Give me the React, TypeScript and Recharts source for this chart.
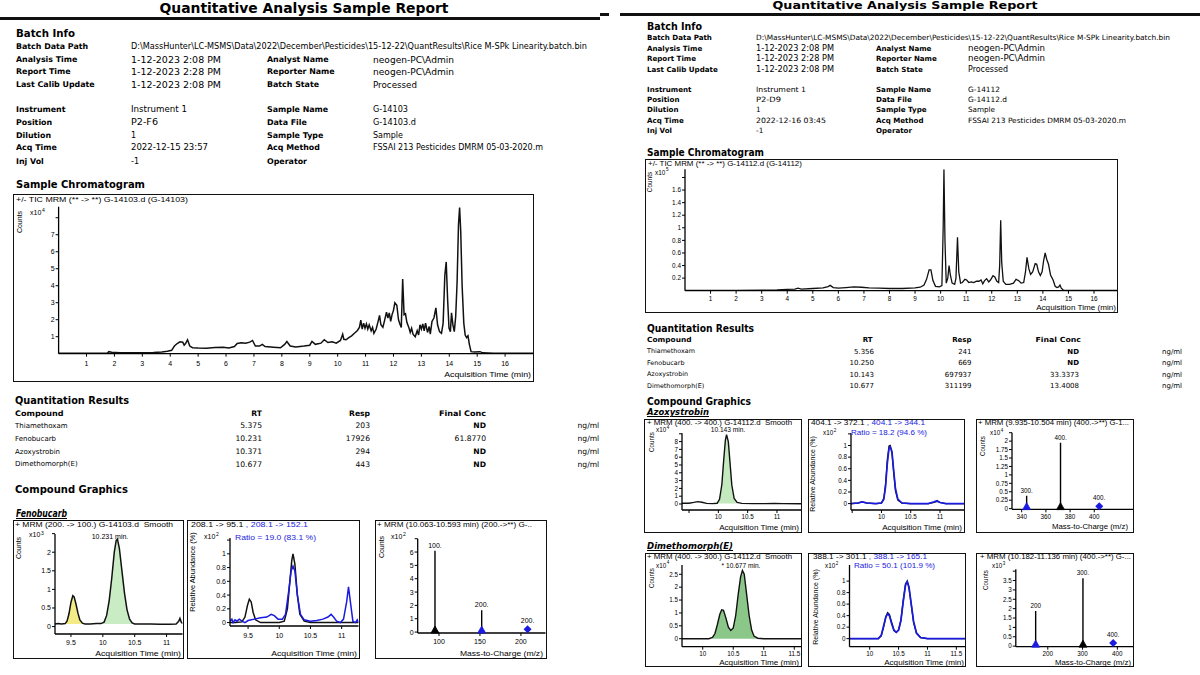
import React from 'react';
import { ComposedChart, Line, Area, XAxis, YAxis, ReferenceDot } from 'recharts';

const RPT = "'DejaVu Sans', Verdana, sans-serif";
const CHT = "'Liberation Sans', Arial, sans-serif";
const BLUE = '#1a1ae0';

// ---------------- DATA ----------------
// TIC G-14103 (x10^4 counts vs min)
const ticG14103: [number, number][] = [
  [0, 0.03], [0.5, 0.03], [1.0, 0.03], [1.5, 0.03], [1.75, 0.04], [1.8, 0.12], [1.9, 0.08], [2.2, 0.06], [2.6, 0.05], [3.0, 0.05],
  [3.4, 0.07], [3.7, 0.1], [3.9, 0.14], [4.05, 0.2], [4.15, 0.45], [4.25, 0.6], [4.35, 0.7], [4.45, 0.68], [4.5, 0.5], [4.55, 0.6],
  [4.62, 0.82], [4.7, 0.45], [4.8, 0.35], [5.0, 0.33], [5.3, 0.32], [5.6, 0.36], [5.9, 0.38], [6.1, 0.34], [6.3, 0.42], [6.4, 0.6],
  [6.55, 0.65], [6.7, 0.62], [6.85, 0.68], [6.95, 0.78], [7.05, 0.45], [7.2, 0.45], [7.3, 0.55], [7.4, 0.42], [7.7, 0.38], [7.95, 0.35],
  [8.1, 0.55], [8.18, 0.72], [8.3, 0.45], [8.5, 0.4], [8.8, 0.45], [9.0, 0.5], [9.08, 0.72], [9.2, 0.55], [9.4, 0.62], [9.52, 0.82],
  [9.65, 0.66], [9.8, 0.7], [9.95, 0.62], [10.1, 0.78], [10.18, 1.15], [10.22, 0.85], [10.3, 0.82], [10.4, 0.95], [10.5, 1.05], [10.6, 1.2],
  [10.7, 1.35], [10.78, 1.55], [10.83, 1.98], [10.88, 1.45], [10.93, 1.8], [10.98, 1.5], [11.03, 1.75], [11.08, 1.45], [11.13, 1.7], [11.2, 1.35],
  [11.25, 1.55], [11.3, 1.2], [11.38, 1.45], [11.45, 1.9], [11.5, 2.25], [11.55, 1.7], [11.62, 1.55], [11.68, 1.95], [11.75, 2.45], [11.8, 2.1],
  [11.85, 2.4], [11.9, 1.9], [11.95, 2.3], [12.0, 2.55], [12.05, 3.0], [12.12, 2.85], [12.18, 2.0], [12.23, 1.75], [12.28, 1.55], [12.33, 4.4],
  [12.38, 2.3], [12.43, 2.35], [12.48, 1.85], [12.55, 1.55], [12.6, 1.25], [12.65, 1.5], [12.7, 1.15], [12.78, 1.0], [12.85, 1.35], [12.9, 1.1],
  [12.95, 1.7], [13.0, 1.45], [13.05, 1.75], [13.1, 1.35], [13.15, 1.8], [13.22, 1.25], [13.28, 1.6], [13.32, 1.15], [13.38, 1.9], [13.45, 2.1],
  [13.52, 2.7], [13.58, 1.7], [13.65, 1.3], [13.72, 1.2], [13.78, 1.8], [13.84, 4.6], [13.89, 5.4], [13.94, 3.2], [13.99, 1.5], [14.04, 1.3],
  [14.08, 2.4], [14.13, 1.7], [14.18, 1.3], [14.23, 2.2], [14.28, 4.2], [14.33, 7.6], [14.37, 8.6], [14.41, 7.2], [14.46, 4.0], [14.52, 1.8],
  [14.57, 1.1], [14.62, 0.95], [14.67, 1.05], [14.72, 0.55], [14.78, 0.12], [14.9, 0.1], [15.1, 0.12], [15.2, 0.05], [15.6, 0.03], [16.2, 0.02], [17, 0.02],
];

// TIC G-14112 (x10^5 counts vs min)
const ticG14112: [number, number][] = [
  [0, 0.005], [1, 0.005], [2, 0.006], [3, 0.008], [3.6, 0.012], [4.0, 0.02], [4.3, 0.025], [4.42, 0.04], [4.55, 0.025], [5.0, 0.035],
  [5.4, 0.045], [5.6, 0.065], [5.68, 0.085], [5.8, 0.05], [6.0, 0.04], [6.3, 0.05], [6.6, 0.06], [6.9, 0.055], [7.2, 0.045], [7.6, 0.04],
  [8.0, 0.035], [8.5, 0.035], [9.0, 0.045], [9.2, 0.055], [9.35, 0.09], [9.45, 0.18], [9.55, 0.33], [9.62, 0.33], [9.7, 0.16], [9.8, 0.07],
  [9.95, 0.06], [10.05, 0.08], [10.1, 1.0], [10.13, 1.93], [10.17, 0.8], [10.22, 0.12], [10.28, 0.2], [10.33, 0.4], [10.38, 0.25], [10.45, 0.12],
  [10.55, 0.1], [10.6, 0.2], [10.66, 0.85], [10.71, 0.3], [10.78, 0.12], [10.85, 0.13], [10.95, 0.18], [11.02, 0.17], [11.1, 0.13], [11.2, 0.14],
  [11.3, 0.13], [11.4, 0.15], [11.5, 0.15], [11.58, 0.17], [11.65, 0.11], [11.72, 0.16], [11.8, 0.19], [11.88, 0.14], [11.95, 0.17], [12.05, 0.24],
  [12.12, 0.22], [12.2, 0.15], [12.27, 0.13], [12.31, 0.4], [12.35, 1.12], [12.39, 0.45], [12.45, 0.15], [12.55, 0.1], [12.7, 0.1], [12.85, 0.12],
  [12.95, 0.18], [13.05, 0.16], [13.15, 0.12], [13.25, 0.13], [13.32, 0.3], [13.38, 0.53], [13.45, 0.35], [13.52, 0.26], [13.6, 0.3], [13.7, 0.43],
  [13.76, 0.42], [13.83, 0.3], [13.9, 0.24], [13.97, 0.3], [14.03, 0.48], [14.09, 0.6], [14.15, 0.5], [14.22, 0.42], [14.3, 0.25], [14.4, 0.17],
  [14.48, 0.07], [14.55, 0.05], [14.62, 0.06], [14.67, 0.09], [14.72, 0.04], [14.8, 0.01], [15.0, 0.005], [16, 0.004], [17, 0.003],
];

// Fenobucarb, G-14103: quant 200 -> 100 (x10^3)
const fenoQuant: [number, number][] = [
  [9.25, 0.07], [9.3, 0.08], [9.35, 0.07], [9.41, 0.08], [9.44, 0.15], [9.47, 0.35], [9.5, 0.65], [9.53, 0.83], [9.55, 0.8], [9.58, 0.6],
  [9.61, 0.36], [9.64, 0.18], [9.68, 0.09], [9.72, 0.07], [9.8, 0.07], [9.9, 0.08], [9.97, 0.08], [10.02, 0.12], [10.06, 0.3], [10.1, 0.7],
  [10.14, 1.3], [10.18, 2.0], [10.21, 2.32], [10.23, 2.35], [10.26, 2.1], [10.3, 1.5], [10.34, 0.9], [10.38, 0.45], [10.42, 0.2], [10.46, 0.1],
  [10.5, 0.07], [10.6, 0.07], [10.75, 0.07], [10.9, 0.06], [11.05, 0.06], [11.15, 0.07], [11.19, 0.14], [11.21, 0.22], [11.23, 0.12], [11.25, 0.08],
];
// Fenobucarb qualifiers (x10^2 relative abundance)
const fenoQual95: [number, number][] = [
  [9.21, 0.0], [9.3, 0.0], [9.4, 0.01], [9.45, 0.08], [9.49, 0.25], [9.52, 0.34], [9.55, 0.3], [9.58, 0.15], [9.62, 0.04], [9.7, 0.0],
  [9.8, 0.0], [10.0, 0.0], [10.08, 0.02], [10.13, 0.2], [10.17, 0.6], [10.2, 0.9], [10.22, 1.0], [10.25, 0.85], [10.29, 0.4], [10.33, 0.12],
  [10.4, 0.02], [10.5, 0.0], [11.0, 0.0], [11.27, 0.0],
];
const fenoQual152: [number, number][] = [
  [9.21, 0.02], [9.24, 0.05], [9.26, 0.0], [9.29, 0.04], [9.32, 0.02], [9.36, 0.05], [9.4, 0.02], [9.45, 0.0], [9.5, 0.03], [9.6, 0.05],
  [9.7, 0.07], [9.8, 0.08], [9.87, 0.12], [9.92, 0.1], [9.98, 0.05], [10.05, 0.05], [10.1, 0.12], [10.15, 0.45], [10.19, 0.75], [10.22, 0.82],
  [10.25, 0.75], [10.29, 0.4], [10.34, 0.12], [10.4, 0.04], [10.5, 0.02], [10.6, 0.03], [10.7, 0.05], [10.78, 0.08], [10.83, 0.12], [10.87, 0.08],
  [10.92, 0.02], [10.98, 0.0], [11.03, 0.05], [11.08, 0.3], [11.11, 0.52], [11.14, 0.3], [11.18, 0.02], [11.22, 0.0], [11.25, 0.04], [11.27, 0.0],
];
const fenoSticks = [
  { mz: 95.1, h: 6.1, label: '100.', mark: '#000' },
  { mz: 152.1, h: 1.64, label: '200.', mark: BLUE },
];
const fenoPrecursor = [{ mz: 208.1, h: 0.22, label: '200.' }];

// Azoxystrobin, G-14112 (x10^4)
const azoQuant: [number, number][] = [
  [9.38, 0.1], [9.5, 0.1], [9.58, 0.2], [9.65, 0.3], [9.72, 0.22], [9.8, 0.08], [9.9, 0.05], [9.98, 0.1], [10.02, 0.6], [10.06, 2.5],
  [10.09, 5.5], [10.12, 8.2], [10.14, 8.9], [10.17, 8.0], [10.2, 5.2], [10.23, 2.4], [10.27, 0.7], [10.32, 0.2], [10.4, 0.08], [10.6, 0.05],
  [10.8, 0.05], [10.95, 0.06], [11.1, 0.05], [11.41, 0.04],
];
const azoQual372: [number, number][] = [
  [9.48, 0], [9.6, 0.01], [9.67, 0.03], [9.75, 0.01], [9.9, 0], [10.0, 0.01], [10.04, 0.09], [10.07, 0.33], [10.1, 0.75], [10.13, 0.99],
  [10.15, 1.0], [10.18, 0.86], [10.21, 0.52], [10.24, 0.22], [10.28, 0.06], [10.35, 0.01], [10.5, 0], [10.8, 0], [10.9, 0.02], [10.95, 0.04],
  [11.0, 0.02], [11.1, 0], [11.41, 0],
];
const azoQual344: [number, number][] = [
  [9.48, 0], [9.6, 0.01], [9.67, 0.03], [9.75, 0.01], [9.9, 0], [10.0, 0.01], [10.04, 0.07], [10.07, 0.28], [10.1, 0.68], [10.13, 0.95],
  [10.15, 0.98], [10.18, 0.9], [10.21, 0.57], [10.24, 0.26], [10.28, 0.08], [10.35, 0.01], [10.5, 0], [10.8, 0], [10.9, 0.03], [10.95, 0.05],
  [11.0, 0.02], [11.1, 0], [11.41, 0],
];
const azoSticks = [
  { mz: 344.1, h: 0.38, label: '300.', mark: BLUE },
  { mz: 372.1, h: 1.95, label: '400.', mark: '#000' },
];
const azoPrecursor = [{ mz: 404.1, h: 0.07, label: '400.' }];

// Dimethomorph(E), G-14112 (x10^4)
const dimQuant: [number, number][] = [
  [9.66, 0], [9.9, 0], [10.1, 0], [10.16, 0.05], [10.2, 0.2], [10.24, 0.55], [10.28, 0.95], [10.31, 1.12], [10.34, 1.1], [10.38, 0.8],
  [10.42, 0.45], [10.46, 0.32], [10.5, 0.42], [10.54, 0.9], [10.58, 1.7], [10.62, 2.4], [10.65, 2.65], [10.68, 2.5], [10.72, 1.7], [10.76, 0.9],
  [10.8, 0.35], [10.84, 0.1], [10.9, 0.02], [11.0, 0], [11.3, 0], [11.61, 0],
];
const dimQual301: [number, number][] = [
  [9.65, 0], [10.15, 0], [10.2, 0.05], [10.24, 0.2], [10.28, 0.38], [10.31, 0.45], [10.34, 0.42], [10.38, 0.28], [10.42, 0.15], [10.46, 0.11],
  [10.5, 0.15], [10.54, 0.32], [10.58, 0.66], [10.62, 0.95], [10.65, 1.0], [10.68, 0.88], [10.72, 0.58], [10.76, 0.28], [10.81, 0.09], [10.88, 0.02],
  [11.0, 0], [11.65, 0],
];
const dimQual165: [number, number][] = [
  [9.65, 0], [10.15, 0], [10.2, 0.06], [10.24, 0.22], [10.28, 0.38], [10.31, 0.43], [10.34, 0.4], [10.38, 0.26], [10.42, 0.14], [10.46, 0.11],
  [10.5, 0.15], [10.54, 0.31], [10.58, 0.64], [10.62, 0.93], [10.65, 0.99], [10.68, 0.9], [10.72, 0.6], [10.76, 0.3], [10.81, 0.1], [10.88, 0.02],
  [11.0, 0], [11.65, 0],
];
const dimSticks = [
  { mz: 165.1, h: 1.87, label: '200', mark: BLUE },
  { mz: 301.1, h: 3.62, label: '300.', mark: '#000' },
];
const dimPrecursor = [{ mz: 388.1, h: 0.17, label: '400.' }];

// Quantitation tables
const compounds = ['Thiamethoxam', 'Fenobucarb', 'Azoxystrobin', 'Dimethomorph(E)'];
const rtLeft = ['5.375', '10.231', '10.371', '10.677'];
const respLeft = ['203', '17926', '294', '443'];
const concLeft = ['ND', '61.8770', 'ND', 'ND'];
const rtRight = ['5.356', '10.250', '10.143', '10.677'];
const respRight = ['241', '669', '697937', '311199'];
const concRight = ['ND', 'ND', '33.3373', '13.4008'];

// Tick lists
const minuteTicks = [1, 2, 3, 4, 5, 6, 7, 8, 9, 10, 11, 12, 13, 14, 15, 16];
const ticLeftY = [1, 2, 3, 4, 5, 6, 7, 8];
const ticRightY = [0.2, 0.4, 0.6, 0.8, 1, 1.2, 1.4, 1.6, 1.8];
const rtTicksA = [9.5, 10, 10.5, 11];
const rtTicksB = [10, 10.5, 11, 11.5];
const ratioY = [0, 0.2, 0.4, 0.6, 0.8, 1, 1.2];
const fenoQuantY = [0, 0.5, 1, 1.5, 2, 2.5];
const fenoSpecY = [0, 1, 2, 3, 4, 5, 6, 7];
const fenoSpecX = [100, 150, 200];
const azoQuantY = [0, 1, 2, 3, 4, 5, 6, 7, 8, 9];
const azoSpecY = [0, 0.25, 0.5, 0.75, 1, 1.25, 1.5, 1.75, 2, 2.25];
const azoSpecX = [340, 360, 380, 400];
const dimQuantY = [0, 0.5, 1, 1.5, 2, 2.5];
const dimRatioY = [0, 0.2, 0.4, 0.6, 0.8, 1];
const dimSpecY = [0, 0.5, 1, 1.5, 2, 2.5, 3, 3.5, 4];
const dimSpecX = [200, 300, 400];

// ---------------- HELPERS ----------------
const pts = (a: [number, number][]) => a.map(([t, v]) => ({ t, v }));
const band = (a: [number, number][], lo: number, hi: number, base: number) =>
  a.filter(([t]) => t >= lo && t <= hi).map(([t, v]) => ({ t, r: [base, v] }));
const stickPts = (s: { mz: number; h: number }[]) =>
  s.flatMap((k) => [{ t: k.mz, v: 0 }, { t: k.mz, v: k.h }, { t: k.mz, v: null as any }]);

let _ctx: any = null;
function measure(text: string, font: string) {
  try {
    if (!_ctx) _ctx = document.createElement('canvas').getContext('2d');
    _ctx.font = font;
    return _ctx.measureText(text).width;
  } catch (e) {
    return 0;
  }
}

function T(p: any) {
  const { x, y, t, s, b, it, c = '#000', a = 'l', w, u, ff = RPT, t2, c2, top } = p;
  const font = `${it ? 'italic ' : ''}${b ? 'bold ' : ''}${s}px ${ff}`;
  let sx = 1;
  if (w) {
    const m = measure(t + (t2 || ''), font);
    if (m > 0) sx = w / m;
  }
  const tx = a === 'l' ? '0%' : a === 'r' ? '-100%' : '-50%';
  const origin = a === 'l' ? 'left' : a === 'r' ? 'right' : 'center';
  const lh = top !== undefined ? s * 1.17 : s * 1.2;
  return (
    <div
      style={{
        position: 'absolute', left: x, top: top !== undefined ? top : y - s * 0.6, fontFamily: ff, fontSize: s,
        fontWeight: b ? 700 : 400, fontStyle: it ? 'italic' : 'normal', lineHeight: `${lh}px`,
        whiteSpace: 'pre', color: c, textDecoration: u ? 'underline' : 'none',
        transform: `translateX(${tx}) scaleX(${sx})`, transformOrigin: `${origin} center`,
      }}
    >
      {t}
      {t2 ? <span style={{ color: c2 }}>{t2}</span> : null}
    </div>
  );
}

function R(p: any) {
  const { x, y, t, s, w, ff = CHT } = p;
  let sx = 1;
  if (w) {
    const m = measure(t, `${s}px ${ff}`);
    if (m > 0) sx = w / m;
  }
  return (
    <div
      style={{
        position: 'absolute', left: x, top: y, fontFamily: ff, fontSize: s, lineHeight: `${s * 1.2}px`,
        whiteSpace: 'pre', color: '#000', transform: `translate(-50%,-50%) rotate(-90deg) scaleX(${sx})`,
        transformOrigin: 'center center',
      }}
    >
      {t}
    </div>
  );
}

function X10(p: any) {
  const { x, y, e, s } = p;
  return (
    <>
      <T x={x} y={y} t="x10" s={s} ff={CHT} />
      <T x={x + s * 1.72} y={y - s * 0.38} t={e} s={s * 0.72} ff={CHT} />
    </>
  );
}

type Cfg = {
  box: number[]; plot: number[]; xd: [number, number]; yd: [number, number];
  xt: number[]; yt: number[]; xb?: number[]; yb?: number[]; fs: number; xm: number;
};

const blankFmt = (bl?: number[]) => (v: number) => (bl && bl.some((b) => Math.abs(b - v) < 1e-9) ? '' : String(v));

function frame(c: Cfg, kids: React.ReactNode[]) {
  const [x1, y1, x2, y2] = c.box;
  const [pl, pt, pr, pb] = c.plot;
  const W = x2 - x1;
  const H = y2 - y1;
  const tick = { fontSize: c.fs, fill: '#000', fontFamily: CHT };
  const axisLine = { stroke: '#000', strokeWidth: 1.3 };
  return (
    <>
      <div style={{ position: 'absolute', left: x1, top: y1, width: W, height: H }}>
        <ComposedChart width={W} height={H} margin={{ top: pt - y1, right: x2 - pr, left: 0, bottom: 0 }}>
          <XAxis type="number" dataKey="t" scale="linear" domain={c.xd} ticks={c.xt} interval={0} allowDataOverflow
            height={y2 - pb} tickSize={3} tickMargin={c.xm} tick={tick} tickFormatter={blankFmt(c.xb)}
            axisLine={axisLine} tickLine={{ stroke: '#000' }} />
          <YAxis type="number" scale="linear" domain={c.yd} ticks={c.yt} interval={0} allowDataOverflow
            width={pl - x1} tickSize={3} tickMargin={1} tick={tick} tickFormatter={blankFmt(c.yb)}
            axisLine={axisLine} tickLine={{ stroke: '#000' }} />
          {kids}
        </ComposedChart>
      </div>
      <div style={{ position: 'absolute', left: x1, top: y1, width: W, height: H, border: '1.8px solid #111', boxSizing: 'border-box', pointerEvents: 'none' }} />
    </>
  );
}

const ln = (k: string, d: any[], stroke: string, sw = 1.3) => (
  <Line key={k} data={d} dataKey="v" type="linear" dot={false} activeDot={false} stroke={stroke} strokeWidth={sw} isAnimationActive={false} />
);
const ar = (k: string, d: any[], fill: string) => (
  <Area key={k} data={d} dataKey="r" type="linear" stroke="none" fill={fill} fillOpacity={1} dot={false} activeDot={false} isAnimationActive={false} />
);
const triShape = (color: string) => (p: any) => (
  <polygon points={`${p.cx - 4},${p.cy + 1} ${p.cx + 4},${p.cy + 1} ${p.cx},${p.cy - 6}`} fill={color} stroke={color} strokeWidth={0.8} />
);
const diaShape = (color: string) => (p: any) => (
  <polygon points={`${p.cx},${p.cy - 4} ${p.cx + 4},${p.cy} ${p.cx},${p.cy + 4} ${p.cx - 4},${p.cy}`} fill={color} />
);
const lblShape = (text: string, fs: number, dy: number) => (p: any) => (
  <text x={p.cx} y={p.cy - dy} textAnchor="middle" fontSize={fs} fontFamily={CHT} fill="#000">{text}</text>
);

function spectrumKids(pre: string, sticks: any[], prec: any[], fs: number, dyStick: number, dyPrec: number) {
  const out: React.ReactNode[] = [ln(pre + 'st', stickPts(sticks), '#000', 1.4)];
  sticks.forEach((s, i) => {
    out.push(<ReferenceDot key={pre + 'm' + i} x={s.mz} y={0} r={4} ifOverflow="visible" shape={triShape(s.mark)} />);
    out.push(<ReferenceDot key={pre + 'l' + i} x={s.mz} y={s.h} r={1} ifOverflow="visible" shape={lblShape(s.label, fs, dyStick)} />);
  });
  prec.forEach((s, i) => {
    out.push(<ReferenceDot key={pre + 'd' + i} x={s.mz} y={s.h} r={4} ifOverflow="visible" shape={diaShape(BLUE)} />);
    out.push(<ReferenceDot key={pre + 'dl' + i} x={s.mz} y={s.h} r={1} ifOverflow="visible" shape={lblShape(s.label, fs, dyPrec)} />);
  });
  return out;
}

// ---------------- FRAMES ----------------
const cTicL: Cfg = { box: [13, 194, 534, 382], plot: [58.6, 206.7, 533, 353.7], xd: [0, 17], yd: [0, 8.65], xt: minuteTicks, yt: ticLeftY, yb: [8], fs: 7, xm: 4.5 };
const cL1: Cfg = { box: [13, 520, 184, 659], plot: [55, 534, 182.5, 634], xd: [9.25, 11.25], yd: [-0.2, 2.49], xt: rtTicksA, yt: fenoQuantY, yb: [2.5], fs: 7, xm: 3 };
const cL2: Cfg = { box: [187, 520, 360, 659], plot: [230, 538, 358.5, 626], xd: [9.21, 11.27], yd: [-0.05, 1.23], xt: rtTicksA, yt: ratioY, yb: [1.2], fs: 7, xm: 4.2 };
const cL3: Cfg = { box: [375, 520, 547, 659], plot: [417.7, 538.7, 545.5, 633], xd: [74, 230], yd: [-0.07, 7.0], xt: fenoSpecX, yt: fenoSpecY, yb: [7], fs: 7, xm: 3 };

const cTicR: Cfg = { box: [645, 159, 1118, 313], plot: [685, 169.3, 1117, 290.7], xd: [0, 16.9], yd: [0, 1.93], xt: minuteTicks, yt: ticRightY, yb: [1.8], fs: 6.4, xm: 2.8 };
const cR11: Cfg = { box: [644, 419, 802, 533], plot: [682, 433.3, 801, 510], xd: [9.38, 11.41], yd: [-0.77, 9.06], xt: rtTicksA, xb: [9.5], yt: azoQuantY, yb: [9], fs: 6.3, xm: 2 };
const cR12: Cfg = { box: [808, 419, 965, 533], plot: [851, 433.3, 964, 510], xd: [9.48, 11.41], yd: [-0.11, 1.21], xt: rtTicksA, xb: [9.5], yt: ratioY, yb: [1.2], fs: 6.3, xm: 2 };
const cR13: Cfg = { box: [976, 419, 1134, 533], plot: [1012, 432.7, 1133, 509.3], xd: [332, 432], yd: [-0.02, 2.25], xt: azoSpecX, yt: azoSpecY, yb: [2.25], fs: 6.3, xm: 2.6 };
const cR21: Cfg = { box: [645, 553, 802, 667], plot: [682, 565, 801, 646.7], xd: [9.66, 11.61], yd: [-0.31, 2.86], xt: rtTicksB, yt: dimQuantY, fs: 6.3, xm: 1.6 };
const cR22: Cfg = { box: [808, 553, 966, 667], plot: [849.5, 565, 965, 646.7], xd: [9.65, 11.65], yd: [-0.14, 1.28], xt: rtTicksB, yt: dimRatioY, fs: 6.3, xm: 1.6 };
const cR23: Cfg = { box: [976, 553, 1134, 667], plot: [1015.8, 569.3, 1133, 646.7], xd: [108, 445], yd: [-0.03, 4.1], xt: dimSpecX, yt: dimSpecY, yb: [4], fs: 6.3, xm: 2 };

// ---------------- APP ----------------
export default function App() {
  const lRows = [426, 439, 451.7, 464.3];
  const rRows = [352, 363.5, 375, 386.5];
  const LB = 7.9; // left label size
  const RB = 7.1; // right label size
  return (
    <div style={{ position: 'absolute', left: 0, top: 0, width: 1200, height: 675, overflow: 'hidden', background: '#fff' }}>
      {/* ---------- LEFT PAGE ---------- */}
      <T x={304} top={0.5} t="Quantitative Analysis Sample Report" s={13.5} b a="c" w={289} />
      <div style={{ position: 'absolute', left: 0, top: 16.5, width: 600, height: 3.5, background: '#111' }} />

      <T x={16} y={34} t="Batch Info" s={11} b w={59} />
      <T x={16} y={47} t="Batch Data Path" s={LB} b />
      <T x={131} y={47} t="D:\MassHunter\LC-MSMS\Data\2022\December\Pesticides\15-12-22\QuantResults\Rice M-SPk Linearity.batch.bin" s={8} w={456} />
      <T x={16} y={60} t="Analysis Time" s={LB} b />
      <T x={131} y={60} t="1-12-2023 2:08 PM" s={9.4} w={90} />
      <T x={267} y={60} t="Analyst Name" s={LB} b />
      <T x={373} y={60} t="neogen-PC\Admin" s={9.4} w={81} />
      <T x={16} y={72} t="Report Time" s={LB} b />
      <T x={131} y={72} t="1-12-2023 2:28 PM" s={9.4} w={90} />
      <T x={267} y={72} t="Reporter Name" s={LB} b />
      <T x={373} y={72} t="neogen-PC\Admin" s={9.4} w={81} />
      <T x={16} y={85} t="Last Calib Update" s={LB} b />
      <T x={131} y={85} t="1-12-2023 2:08 PM" s={9.4} w={90} />
      <T x={267} y={85} t="Batch State" s={LB} b />
      <T x={373} y={85} t="Processed" s={9.4} w={44} />

      <T x={16} y={110} t="Instrument" s={LB} b />
      <T x={131} y={110} t="Instrument 1" s={8} w={56} />
      <T x={267} y={110} t="Sample Name" s={LB} b />
      <T x={373} y={110} t="G-14103" s={8} w={35} />
      <T x={16} y={123} t="Position" s={LB} b />
      <T x={131} y={123} t="P2-F6" s={8} w={27} />
      <T x={267} y={123} t="Data File" s={LB} b />
      <T x={373} y={123} t="G-14103.d" s={8} w={43} />
      <T x={16} y={136} t="Dilution" s={LB} b />
      <T x={131} y={136} t="1" s={8} />
      <T x={267} y={136} t="Sample Type" s={LB} b />
      <T x={373} y={136} t="Sample" s={8} w={30} />
      <T x={16} y={148} t="Acq Time" s={LB} b />
      <T x={131} y={148} t="2022-12-15 23:57" s={8} w={77} />
      <T x={267} y={148} t="Acq Method" s={LB} b />
      <T x={373} y={148} t="FSSAI 213 Pesticides DMRM 05-03-2020.m" s={8} w={170} />
      <T x={16} y={162} t="Inj Vol" s={LB} b />
      <T x={131} y={162} t="-1" s={8} />
      <T x={267} y={162} t="Operator" s={LB} b />

      <T x={16} y={185} t="Sample Chromatogram" s={11} b w={129} />
      {frame(cTicL, [ln('ticL', pts(ticG14103), '#111', 1.5)])}
      <T x={16} y={200} t="+/- TIC MRM (** -> **) G-14103.d (G-14103)" s={7} ff={CHT} w={172} />
      <X10 x={30} y={212.7} e="4" s={7} />
      <R x={19.5} y={222} t="Counts" s={7} />
      <T x={531} y={375} t="Acquisition Time (min)" s={7} ff={CHT} a="r" w={87} />

      <T x={15} y={401} t="Quantitation Results" s={11} b w={114} />
      <T x={15} y={414} t="Compound" s={7.6} b w={48.5} />
      <T x={262} y={414} t="RT" s={7.6} b a="r" />
      <T x={370} y={414} t="Resp" s={7.6} b a="r" />
      <T x={486} y={414} t="Final Conc" s={7.6} b a="r" w={47} />
      {compounds.map((n, i) => (
        <React.Fragment key={'lq' + i}>
          <T x={15} y={lRows[i]} t={n} s={7} />
          <T x={262} y={lRows[i]} t={rtLeft[i]} s={7.6} a="r" />
          <T x={370} y={lRows[i]} t={respLeft[i]} s={7.6} a="r" />
          <T x={486} y={lRows[i]} t={concLeft[i]} s={7.6} a="r" b={concLeft[i] === 'ND'} />
          <T x={577.5} y={lRows[i]} t="ng/ml" s={7.6} />
        </React.Fragment>
      ))}
      <T x={15} y={490} t="Compound Graphics" s={11} b w={113} />
      <T x={16} y={514} t="Fenobucarb" s={10} b it u w={51} />

      {frame(cL1, [
        ar('y', band(fenoQuant, 9.41, 9.69, 0.07), '#f3ec86'),
        ar('g', band(fenoQuant, 9.97, 10.5, 0.07), '#c9ecc5'),
        ln('q', pts(fenoQuant), '#111', 1.5),
      ])}
      <T x={15} y={525} t="+ MRM (200. -> 100.) G-14103.d  Smooth" s={7} ff={CHT} w={158} />
      <X10 x={29} y={535.5} e="3" s={7} />
      <T x={110} y={537} t="10.231 min." s={7} ff={CHT} a="c" />
      <R x={18.5} y={548} t="Counts" s={7} />
      <T x={181} y={654} t="Acquisition Time (min)" s={7} ff={CHT} a="r" w={86} />

      {frame(cL2, [ln('b', pts(fenoQual95), '#111', 1.5), ln('u', pts(fenoQual152), BLUE, 1.5)])}
      <T x={190.5} y={525} t="208.1 -> 95.1 " t2=", 208.1 -> 152.1" c2={BLUE} s={7} ff={CHT} w={117} />
      <X10 x={204} y={537} e="2" s={7} />
      <T x={235} y={538} t="Ratio = 19.0 (83.1 %)" s={7} ff={CHT} c={BLUE} w={81} />
      <R x={193} y={572} t="Relative Abundance (%)" s={7} w={80} />
      <T x={357} y={654} t="Acquisition Time (min)" s={7} ff={CHT} a="r" w={86} />

      {frame(cL3, spectrumKids('f', fenoSticks, fenoPrecursor, 7, 3, 6))}
      <T x={377} y={525} t="+ MRM (10.063-10.593 min) (200.->**) G-.." s={7} ff={CHT} w={155} />
      <X10 x={391} y={537} e="2" s={7} />
      <R x={382} y={547} t="Counts" s={7} />
      <T x={543} y={654} t="Mass-to-Charge (m/z)" s={7} ff={CHT} a="r" w={83} />

      {/* ---------- RIGHT PAGE ---------- */}
      <T x={905} top={0} t="Quantitative Analysis Sample Report" s={11} b a="c" w={265} />
      <div style={{ position: 'absolute', left: 620, top: 13.2, width: 580, height: 3, background: '#111' }} />
      <div style={{ position: 'absolute', left: 600, top: 12.5, width: 9, height: 3, background: '#111' }} />

      <T x={647} y={26.7} t="Batch Info" s={10} b w={55} />
      <T x={647} y={38.3} t="Batch Data Path" s={RB} b />
      <T x={756} y={38.3} t="D:\MassHunter\LC-MSMS\Data\2022\December\Pesticides\15-12-22\QuantResults\Rice M-SPk Linearity.batch.bin" s={7.3} w={414} />
      <T x={647} y={49.3} t="Analysis Time" s={RB} b />
      <T x={756} y={49.3} t="1-12-2023 2:08 PM" s={8.3} w={78} />
      <T x={876} y={49.3} t="Analyst Name" s={RB} b />
      <T x={968} y={49.3} t="neogen-PC\Admin" s={8.3} w={77} />
      <T x={647} y={59.3} t="Report Time" s={RB} b />
      <T x={756} y={59.3} t="1-12-2023 2:28 PM" s={8.3} w={78} />
      <T x={876} y={59.3} t="Reporter Name" s={RB} b />
      <T x={968} y={59.3} t="neogen-PC\Admin" s={8.3} w={77} />
      <T x={647} y={70} t="Last Calib Update" s={RB} b />
      <T x={756} y={70} t="1-12-2023 2:08 PM" s={8.3} w={78} />
      <T x={876} y={70} t="Batch State" s={RB} b />
      <T x={968} y={70} t="Processed" s={8.3} w={40} />

      <T x={647} y={90} t="Instrument" s={RB} b />
      <T x={756} y={90} t="Instrument 1" s={7.3} w={50} />
      <T x={876} y={90} t="Sample Name" s={RB} b />
      <T x={968} y={90} t="G-14112" s={7.3} w={32} />
      <T x={647} y={100.5} t="Position" s={RB} b />
      <T x={756} y={100.5} t="P2-D9" s={7.3} w={25} />
      <T x={876} y={100.5} t="Data File" s={RB} b />
      <T x={968} y={100.5} t="G-14112.d" s={7.3} w={39} />
      <T x={647} y={110.5} t="Dilution" s={RB} b />
      <T x={756} y={110.5} t="1" s={7.3} />
      <T x={876} y={110.5} t="Sample Type" s={RB} b />
      <T x={968} y={110.5} t="Sample" s={7.3} w={27} />
      <T x={647} y={121} t="Acq Time" s={RB} b />
      <T x={756} y={121} t="2022-12-16 03:45" s={7.3} w={70} />
      <T x={876} y={121} t="Acq Method" s={RB} b />
      <T x={968} y={121} t="FSSAI 213 Pesticides DMRM 05-03-2020.m" s={7.3} w={158} />
      <T x={647} y={131} t="Inj Vol" s={RB} b />
      <T x={756} y={131} t="-1" s={7.3} />
      <T x={876} y={131} t="Operator" s={RB} b />

      <T x={647} y={152.7} t="Sample Chromatogram" s={10} b w={117} />
      {frame(cTicR, [ln('ticR', pts(ticG14112), '#111', 1.3)])}
      <T x={647.6} y={164} t="+/- TIC MRM (** -> **) G-14112.d (G-14112)" s={6.4} ff={CHT} w={154} />
      <X10 x={655} y={172.6} e="5" s={6.4} />
      <R x={650} y={182} t="Counts" s={6.4} />
      <T x={1116} y={307.7} t="Acquisition Time (min)" s={6.4} ff={CHT} a="r" w={80} />

      <T x={647} y={329} t="Quantitation Results" s={10} b w={107} />
      <T x={647} y={340} t="Compound" s={7} b w={44.6} />
      <T x={872.6} y={340} t="RT" s={7} b a="r" />
      <T x={971.5} y={340} t="Resp" s={7} b a="r" />
      <T x={1080.5} y={340} t="Final Conc" s={7} b a="r" w={45.5} />
      {compounds.map((n, i) => (
        <React.Fragment key={'rq' + i}>
          <T x={647} y={rRows[i]} t={n} s={6.4} />
          <T x={874} y={rRows[i]} t={rtRight[i]} s={7} a="r" />
          <T x={971.5} y={rRows[i]} t={respRight[i]} s={7} a="r" />
          <T x={1079} y={rRows[i]} t={concRight[i]} s={7} a="r" b={concRight[i] === 'ND'} />
          <T x={1162} y={rRows[i]} t="ng/ml" s={7} />
        </React.Fragment>
      ))}
      <T x={647} y={401.7} t="Compound Graphics" s={10} b w={104} />
      <T x={647} y={412.7} t="Azoxystrobin" s={9} b it u w={62} />

      {frame(cR11, [ar('g', band(azoQuant, 9.98, 10.32, 0.06), '#c4e9be'), ln('q', pts(azoQuant), '#111', 1.4)])}
      <T x={646.5} y={422.5} t="+ MRM (400. -> 400.) G-14112.d  Smooth" s={6.3} ff={CHT} w={145} />
      <X10 x={656} y={430} e="4" s={6.3} />
      <T x={728} y={430} t="10.143 min." s={6.6} ff={CHT} a="c" />
      <R x={651.5} y={442} t="Counts" s={6.3} />
      <T x={799} y={527.7} t="Acquisition Time (min)" s={6.3} ff={CHT} a="r" w={80} />

      {frame(cR12, [ln('b', pts(azoQual372), '#111', 1.4), ln('u', pts(azoQual344), BLUE, 1.6)])}
      <T x={810.5} y={422.5} t="404.1 -> 372.1 " t2=", 404.1 -> 344.1" c2={BLUE} s={6.3} ff={CHT} w={114} />
      <X10 x={823} y={433} e="2" s={6.3} />
      <T x={851} y={433} t="Ratio = 18.2 (94.6 %)" s={6.3} ff={CHT} c={BLUE} w={76} />
      <R x={813} y={474} t="Relative Abundance (%)" s={6.3} w={76} />
      <T x={962} y={527.7} t="Acquisition Time (min)" s={6.3} ff={CHT} a="r" w={80} />

      {frame(cR13, spectrumKids('a', azoSticks, azoPrecursor, 6.3, 2.5, 6))}
      <T x={978} y={422.5} t="+ MRM (9.935-10.504 min) (400.->**) G-1..." s={6.3} ff={CHT} w={151} />
      <X10 x={990} y={433} e="4" s={6.3} />
      <R x={983} y={446} t="Counts" s={6.3} />
      <T x={1128} y={526.7} t="Mass-to-Charge (m/z)" s={6.3} ff={CHT} a="r" w={76} />

      <T x={647} y={546.7} t="Dimethomorph(E)" s={9} b it u w={86} />

      {frame(cR21, [ar('g', band(dimQuant, 10.14, 10.92, 0), '#8cc78a'), ln('q', pts(dimQuant), '#111', 1.4)])}
      <T x={647} y={556.7} t="+ MRM (400. -> 300.) G-14112.d  Smooth" s={6.3} ff={CHT} w={145} />
      <X10 x={656} y={565.5} e="4" s={6.3} />
      <T x={741} y={566} t="* 10.677 min." s={6.6} ff={CHT} a="c" />
      <R x={651.5} y={578} t="Counts" s={6.3} />
      <T x={799} y={662.7} t="Acquisition Time (min)" s={6.3} ff={CHT} a="r" w={80} />

      {frame(cR22, [ln('b', pts(dimQual301), '#111', 1.4), ln('u', pts(dimQual165), BLUE, 1.7)])}
      <T x={813} y={556.7} t="388.1 -> 301.1 " t2=", 388.1 -> 165.1" c2={BLUE} s={6.3} ff={CHT} w={114} />
      <X10 x={825} y={566} e="2" s={6.3} />
      <T x={854} y={566} t="Ratio = 50.1 (101.9 %)" s={6.3} ff={CHT} c={BLUE} w={81} />
      <R x={816} y={607} t="Relative Abundance (%)" s={6.3} w={76} />
      <T x={964} y={662.7} t="Acquisition Time (min)" s={6.3} ff={CHT} a="r" w={80} />

      {frame(cR23, spectrumKids('d', dimSticks, dimPrecursor, 6.3, 3, 6))}
      <T x={980} y={556.7} t="+ MRM (10.182-11.136 min) (400.->**) G-..." s={6.3} ff={CHT} w={151} />
      <X10 x={992} y={566} e="3" s={6.3} />
      <R x={986} y={580} t="Counts" s={6.3} />
      <T x={1131} y={662.7} t="Mass-to-Charge (m/z)" s={6.3} ff={CHT} a="r" w={76} />
    </div>
  );
}
